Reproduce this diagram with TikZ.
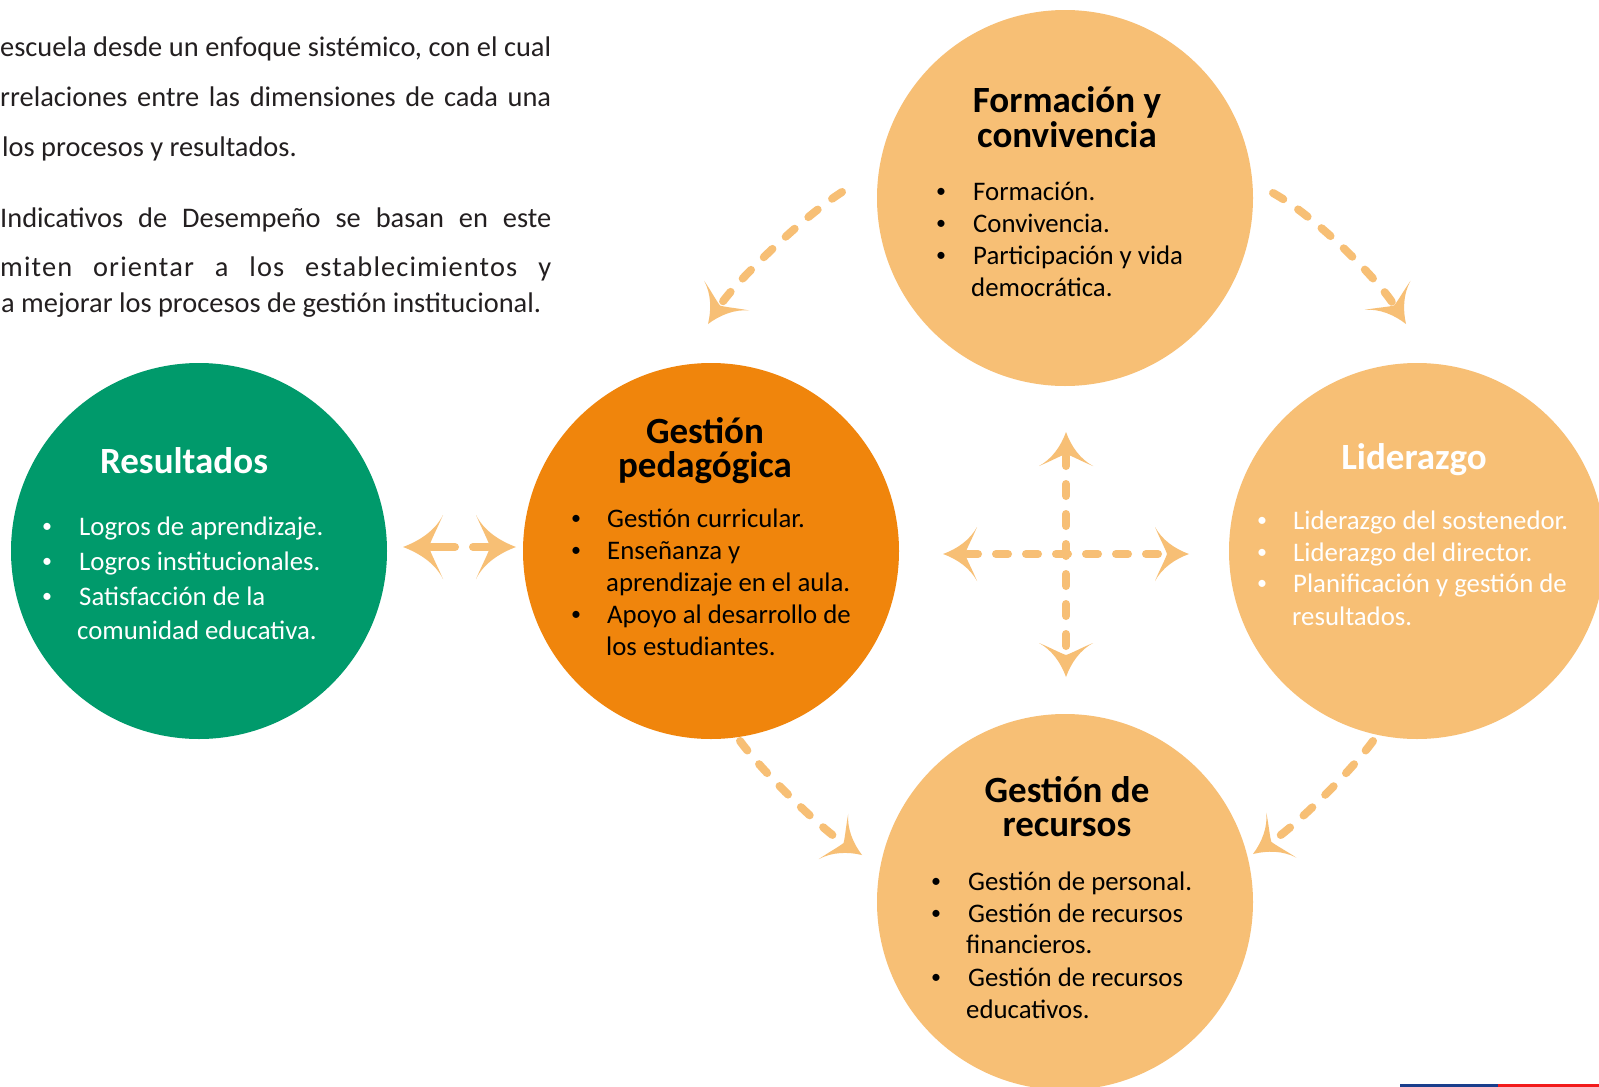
\documentclass[tikz,border=0pt]{standalone}
\usepackage{fontspec}
\setmainfont{Carlito}
\usetikzlibrary{arrows.meta}
\definecolor{verde}{HTML}{009A6B}
\definecolor{naranja}{HTML}{F0850C}
\definecolor{claro}{HTML}{F7BF75}
\definecolor{ink}{HTML}{231F20}
\definecolor{azulbar}{HTML}{1A3E8C}
\definecolor{rojobar}{HTML}{F21B1B}

\pgfdeclarearrow{
  name = CTip,
  setup code = {
    \pgfarrowssettipend{0pt}
    \pgfarrowssetlineend{-24pt}
    \pgfarrowssetvisualbackend{-24pt}
    \pgfarrowssetbackend{-34pt}
  },
  drawing code = {
    \pgfpathmoveto{\pgfqpoint{0pt}{0pt}}
    \pgfpathcurveto{\pgfqpoint{-14pt}{5pt}}{\pgfqpoint{-27pt}{14pt}}{\pgfqpoint{-34pt}{27pt}}
    \pgfpathcurveto{\pgfqpoint{-29pt}{15pt}}{\pgfqpoint{-24pt}{6pt}}{\pgfqpoint{-22pt}{0pt}}
    \pgfpathcurveto{\pgfqpoint{-24pt}{-6pt}}{\pgfqpoint{-29pt}{-15pt}}{\pgfqpoint{-34pt}{-27pt}}
    \pgfpathcurveto{\pgfqpoint{-27pt}{-14pt}}{\pgfqpoint{-14pt}{-5pt}}{\pgfqpoint{0pt}{0pt}}
    \pgfpathclose
    \pgfusepathqfill
  }
}
\pgfdeclarearrow{
  name = CTipBig,
  setup code = {
    \pgfarrowssettipend{0pt}
    \pgfarrowssetlineend{-28pt}
    \pgfarrowssetvisualbackend{-28pt}
    \pgfarrowssetbackend{-40pt}
  },
  drawing code = {
    \pgfpathmoveto{\pgfqpoint{0pt}{0pt}}
    \pgfpathcurveto{\pgfqpoint{-16pt}{6pt}}{\pgfqpoint{-32pt}{16pt}}{\pgfqpoint{-40pt}{32pt}}
    \pgfpathcurveto{\pgfqpoint{-34pt}{18pt}}{\pgfqpoint{-28pt}{7pt}}{\pgfqpoint{-26pt}{0pt}}
    \pgfpathcurveto{\pgfqpoint{-28pt}{-7pt}}{\pgfqpoint{-34pt}{-18pt}}{\pgfqpoint{-40pt}{-32pt}}
    \pgfpathcurveto{\pgfqpoint{-32pt}{-16pt}}{\pgfqpoint{-16pt}{-6pt}}{\pgfqpoint{0pt}{0pt}}
    \pgfpathclose
    \pgfusepathqfill
  }
}

\newcommand\dimitem[6]{\node[bul,text=#6] (#1b) at (#2,#4) {\raisebox{2.2pt}{•}}; \node[body,text=#6] (#1) at (#3,#4) {#5};}
\newcommand\dimcont[5]{\node[body,text=#5] (#1) at (#2,#3) {#4};}
\newcommand\jline[1]{\hbox to 551pt{\spaceskip=.226em plus 1fil minus .1em\relax #1}}

\begin{document}
\begin{tikzpicture}[x=1pt,y=-1pt,
  circ/.style={circle, minimum size=376pt, inner sep=0pt},
  body/.style={font=\fontsize{26.8}{32}\selectfont, inner sep=0pt, anchor=base west},
  bul/.style={font=\fontsize{20}{24}\selectfont, inner sep=0pt, anchor=base},
  ttl/.style={font=\fontsize{37}{40}\selectfont\bfseries, inner sep=0pt, anchor=base},
  ptext/.style={font=\fontsize{28.4}{34}\selectfont, inner sep=0pt, anchor=base west, text=ink},
  con/.style={color=claro, line width=8pt, line cap=round, dash pattern=on 12pt off 18pt},
  solidcon/.style={color=claro, line width=8pt, line cap=round},
]
\useasboundingbox (0,0) rectangle (1599,1087);
\clip (0,0) rectangle (1599,1087);
\fill[white] (0,0) rectangle (1599,1087);

% paragraph
\node[ptext] (t1) at (0,56) {\jline{escuela desde un enfoque sistémico, con el cual}};
\node[ptext] (t2) at (0,106) {\jline{rrelaciones entre las dimensiones de cada una}};
\node[ptext] (t3) at (2,156) {los procesos y resultados.};
\node[ptext] (t4) at (0,227) {\jline{Indicativos de Desempeño se basan en este}};
\node[ptext] (t5) at (0,276) {\jline{\addfontfeature{LetterSpace=4}miten orientar a los establecimientos y}};
\node[ptext] (t6) at (1,312) {a mejorar los procesos de gestión institucional.};

% circles
\node[circ, fill=verde] (res) at (199,551) {};
\node[circ, fill=naranja] (ped) at (711,551) {};
\node[circ, fill=claro] (form) at (1065,198) {};
\node[circ, fill=claro] (lid) at (1417,551) {};
\node[circ, fill=claro] (rec) at (1065,902) {};

% titles
\node[ttl, text=white] (resT) at (184,473) {Resultados};
\node[ttl] (pedT1) at (705,443) {Gestión};
\node[ttl] (pedT2) at (705,477) {pedagógica};
\node[ttl] (formT1) at (1067,112) {Formación y};
\node[ttl] (formT2) at (1067,147) {convivencia};
\node[ttl, text=white] (lidT) at (1414,469) {Liderazgo};
\node[ttl] (recT1) at (1067,802) {Gestión de};
\node[ttl] (recT2) at (1067,836) {recursos};

% items
\dimitem{r1}{47}{79}{535}{Logros de aprendizaje.}{white}
\dimitem{r2}{47}{79}{570}{Logros institucionales.}{white}
\dimitem{r3}{47}{79}{605}{Satisfacción de la}{white}
\dimcont{r4}{77}{639}{comunidad educativa.}{white}

\dimitem{p1}{576}{607}{527}{Gestión curricular.}{black}
\dimitem{p2}{576}{607}{559}{Enseñanza y}{black}
\dimcont{p3}{606}{591}{aprendizaje en el aula.}{black}
\dimitem{p4}{576}{607}{623}{Apoyo al desarrollo de}{black}
\dimcont{p5}{606}{655}{los estudiantes.}{black}

\dimitem{f1}{941}{973}{200}{Formación.}{black}
\dimitem{f2}{941}{973}{232}{Convivencia.}{black}
\dimitem{f3}{941}{973}{264}{Participación y vida}{black}
\dimcont{f4}{971}{296}{democrática.}{black}

\dimitem{l1}{1262}{1293}{529}{Liderazgo del sostenedor.}{white}
\dimitem{l2}{1262}{1293}{561}{Liderazgo del director.}{white}
\dimitem{l3}{1262}{1293}{592}{Planificación y gestión de}{white}
\dimcont{l4}{1292}{625}{resultados.}{white}

\dimitem{g1}{936}{968}{890}{Gestión de personal.}{black}
\dimitem{g2}{936}{968}{922}{Gestión de recursos}{black}
\dimcont{g3}{966}{953}{financieros.}{black}
\dimitem{g4}{936}{968}{986}{Gestión de recursos}{black}
\dimcont{g5}{966}{1018}{educativos.}{black}

% curved connectors
\coordinate (a1s) at (842,192); \coordinate (a1e) at (708,324);
\draw[con,-{CTip}] (a1s) .. controls (800,219) and (735,283) .. (a1e);
\coordinate (a2s) at (1273,193); \coordinate (a2e) at (1406,324);
\draw[con,-{CTip}] (a2s) .. controls (1318,218) and (1378,280) .. (a2e);
\coordinate (a3s) at (740,741); \coordinate (a3e) at (862,855);
\draw[con,-{CTip}] (a3s) .. controls (765,775) and (822,829) .. (a3e);
\coordinate (a4s) at (1373,741); \coordinate (a4e) at (1253,854);
\draw[con,-{CTip}] (a4s) .. controls (1348,775) and (1295,826) .. (a4e);

% double arrow between Resultados and Gestion pedagogica
\coordinate (hmL) at (455,547); \coordinate (hL) at (403,547);
\coordinate (hmR) at (473,547); \coordinate (hR) at (516,547);
\draw[solidcon,-{CTipBig}] (hmL) -- (hL);
\draw[solidcon,-{CTipBig}] (hmR) -- (hR);

% central cross
\coordinate (cx) at (1066,554);
\coordinate (cu) at (1066,432); \coordinate (cd) at (1066,677);
\coordinate (cl) at (943,554); \coordinate (cr) at (1189,554);
\draw[con, dash phase=1pt, {CTip}-{CTip}] (cl) -- (cx) -- (cr);
\draw[con, dash phase=2pt, {CTip}-{CTip}] (cu) -- (cx) -- (cd);

% bottom bar
\fill[azulbar] (1400,1084) rectangle (1498,1087);
\fill[rojobar] (1498,1084) rectangle (1599,1087);
\end{tikzpicture}
\end{document}
